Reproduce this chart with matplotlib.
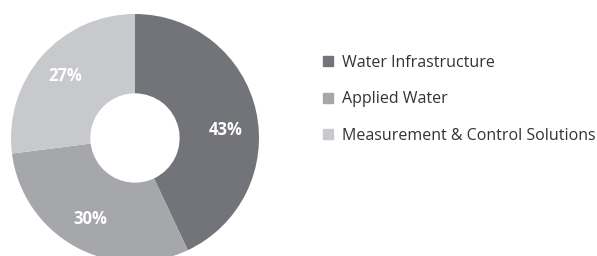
import matplotlib.pyplot as plt
from matplotlib.lines import Line2D

plt.rcParams['font.family'] = ['Open Sans', 'DejaVu Sans']

# Data
segments = ['Water Infrastructure', 'Applied Water', 'Measurement & Control Solutions']
shares = [43, 30, 27]
colors = ['#737479', '#a6a7ab', '#c8c9cd']

fig = plt.figure(figsize=(5.97, 2.56), dpi=100)

# donut axes, center around (135, 138) px with radius ~124 px
W, H = 597, 256
cx, cy, r = 135, 138, 124
ax = fig.add_axes([(cx - r) / W, (H - cy - r) / H, 2 * r / W, 2 * r / H])

wedges, texts, autotexts = ax.pie(
    shares, colors=colors, startangle=90, counterclock=False,
    radius=1, autopct='%d%%', pctdistance=0.75,
    wedgeprops=dict(width=0.64, linewidth=0),
    textprops=dict(color='white', fontsize=12, fontweight='bold'))
ax.set_xlim(-1, 1)
ax.set_ylim(-1, 1)
ax.set_aspect('equal')
ax.axis('off')

# the first label sits a little lower in the original
x0, y0 = autotexts[0].get_position()
autotexts[0].set_position((x0, y0 - 0.1))

# legend with small square markers
handles = [Line2D([], [], marker='s', linestyle='none', markersize=7.2,
                  markerfacecolor=c, markeredgecolor=c) for c in colors]
fig.legend(handles, segments, loc='upper left', bbox_to_anchor=(0.538, 0.785),
           frameon=False, fontsize=11.5, labelcolor='#333333',
           handlelength=0.8, handletextpad=0.5, labelspacing=1.27,
           borderaxespad=0, borderpad=0)

plt.savefig('out.png', dpi=100)
